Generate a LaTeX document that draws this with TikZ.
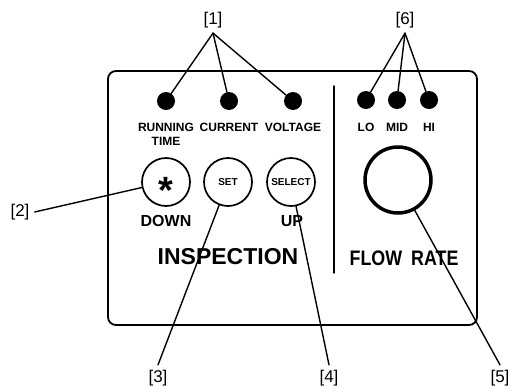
\documentclass[tikz,border=0pt]{standalone}
\usepackage{fontspec}
\setmainfont{Liberation Sans}
\newfontfamily\narrowfont[FakeStretch=0.85]{Liberation Sans}
\begin{document}
\begin{tikzpicture}
      [x=1pt,y=-1pt,line cap=round,
       dot/.style={circle, fill=black, inner sep=0pt, minimum size=18pt},
       btn/.style={draw, circle, line width=1.7pt, inner sep=0pt, minimum size=48pt, font=\bfseries\fontsize{10}{10}\selectfont},
       lbl/.style={inner sep=5pt, font=\fontsize{17}{17}\selectfont},
       txt/.style={inner sep=0pt, align=center, font=\bfseries\fontsize{12}{14}\selectfont},
       lead/.style={line width=1.4pt}]
      \useasboundingbox (0,0) rectangle (513,391);
      % panel
      \draw[line width=1.8pt, rounded corners=8pt] (108,71) rectangle (477,325);
      \draw[line width=1.4pt] (334,86) -- (334,273);

      % lamps
      \node[dot] (d1) at (166,101) {};
      \node[dot] (d2) at (229,101) {};
      \node[dot] (d3) at (293,101) {};
      \node[dot] (d4) at (366,100) {};
      \node[dot] (d5) at (397,100) {};
      \node[dot] (d6) at (429,100) {};
      \node[txt] (t1) at (166,134) {RUNNING\\TIME};
      \node[txt] (t2) at (229,127) {CURRENT};
      \node[txt] (t3) at (293,127) {VOLTAGE};
      \node[txt] (t4) at (366,127) {LO};
      \node[txt] (t5) at (397,127) {MID};
      \node[txt] (t6) at (429,127) {HI};

      % buttons
      \node[btn] (b2) at (166,182) {\fontsize{38}{38}\selectfont\raisebox{-0.57em}[0pt][0pt]{*}};
      \node[btn] (b3) at (228,182) {SET};
      \node[btn] (b4) at (291,182) {SELECT};
      \node[draw, circle, line width=3.5pt, minimum size=66pt] (k5) at (398,180) {};
      \node[txt, font=\bfseries\fontsize{16}{16}\selectfont] (dn) at (166,221) {DOWN};
      \node[txt, font=\bfseries\fontsize{16}{16}\selectfont] (up) at (292,221) {UP};
      \node[txt, font=\bfseries\fontsize{23}{23}\selectfont] (ins) at (228,257) {INSPECTION};
      \node[txt, font=\narrowfont\bfseries\fontsize{21}{21}\selectfont] (flow) at (404,258) {FLOW\hspace{9pt}RATE};

      % callouts
      \node[lbl] (l1) at (213,20) {[1]};
      \node[lbl] (l6) at (405,20) {[6]};
      \node[lbl] (l2) at (20,212) {[2]};
      \node[lbl] (l3) at (158,378) {[3]};
      \node[lbl] (l4) at (329,378) {[4]};
      \node[lbl] (l5) at (500,378) {[5]};

      \foreach \to in {d1, d2, d3}
        \draw[lead] (l1.south) -- (\to);
      \foreach \to in {d4, d5, d6}
        \draw[lead] (l6.south) -- (\to);
      \draw[lead] (l2.east) -- (b2);
      \foreach \from/\to in {l3/b3, l4/b4, l5/k5}
        \draw[lead] (\from.north) -- (\to);
\end{tikzpicture}
\end{document}
